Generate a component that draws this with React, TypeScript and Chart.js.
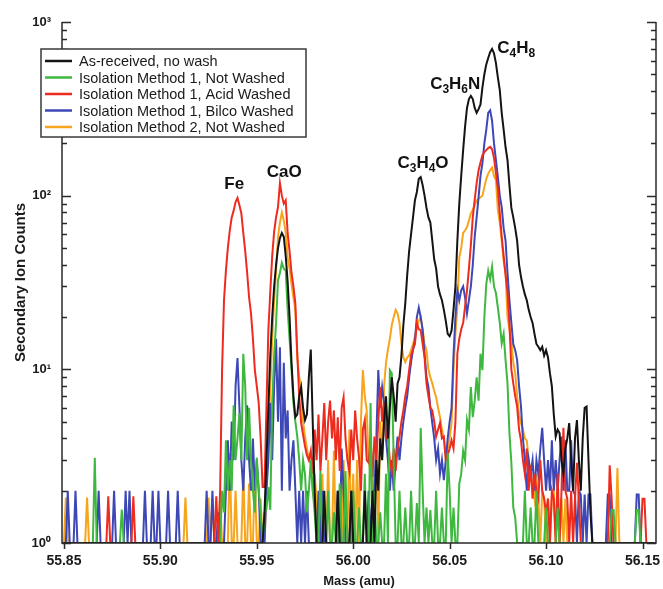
import React, { useEffect, useRef } from 'react';
import { Chart, registerables } from 'chart.js';

Chart.register(...registerables);

// ---------- axis / category data ----------
const MASS_START = 55.85;
const MASS_STEP = 0.001;
const X_MIN = 55.849;
const X_MAX = 56.157;
const X_TICKS = [55.85, 55.9, 55.95, 56.0, 56.05, 56.1, 56.15];
const Y_DECADES = [1, 10, 100, 1000];
const SUP: Record<number, string> = { 0: '\u2070', 1: '\u00B9', 2: '\u00B2', 3: '\u00B3' };

const SERIES_NAMES = [
  'As-received, no wash',
  'Isolation Method 1, Not Washed',
  'Isolation Method 1, Acid Washed',
  'Isolation Method 1, Bilco Washed',
  'Isolation Method 2, Not Washed',
];
const SERIES_COLORS = ['#141414', '#3fb83f', '#ee2b1f', '#3d48b6', '#f7a51c'];

// ---------- series values (counts, one per 0.001 amu from 55.850) ----------
const AS_RECEIVED = [
  1,1,1,1,1,1,1,1,1,1, 1,1,1,1,1,1,1,1,1,1, 1,1,1,1,1,1,1,1,1,1, 1,1,1,1,1,1,1,1,1,1,
  1,1,1,1,1,1,1,1,1,1, 1,1,1,1,1,1,1,1,1,1, 1,1,1,1,1,1,1,1,1,1, 1,1,1,1,1,1,1,1,1,1,
  1,1,1,1,1,1,1,1,1,1, 1,1,1,1,1,1,1,1,1,1,
  1,1,1,1,1.5,3,6,12,20,30,
  40,50,57,61,58,45,32,20,11,7,
  5.3,5.5,7,7.9,6,5.1,5.5,9,13,5,
  2,1,1,1,1,2,1,1,1,1,
  1,1,2,1,1,1,1,1,1,2,
  1,1,1,1,1,1,2,1,1,1,
  2,1,3,2,4,3,5,7,4,6,
  9,7,5,8.3,9,12,18,24,35,48,
  60,75,94,105,125,128,115,100,85,75,
  70,55,43,38,30,27,25,22,19,16,
  15.5,16.7,22,30,55,90,130,183,250,320,
  360,375,360,320,300,315,335,420,500,570,
  620,670,700,660,580,480,405,300,240,190,
  160,115,85,75,65,55,40,34,30,27,
  25,22,20,18.5,16,14,13.5,12.9,13.5,12,
  12.9,11.7,9.5,8,5.5,4.1,4.5,4.3,3,2.5,
  3.5,4,4.9,3,2,4,5.1,3,2,4,
  6,6.1,3,1.5,1,1,1,1,1,1,
  1,1,1,1,1,1,1,1,1,1,
  1,1,1,1,1,1,1,1,1,1,
  1,1,1,1,1,1,1,
];

const M1_NOT_WASHED = [
  1,1,1,1,1,1,1,1,1,1,
  1,1,1,1,1,1,3.1,1,1,1,
  1,1,1,1,1,1,1,1,1,1,
  1.56,1,1,1,1,1,1,1,1,1,
  1,1,1,1,1,1,1,1,1,1, 1,1,1,1,1,1,1,1,1,1, 1,1,1,1,1,1,1,1,1,1, 1,1,1,1,1,1,1,1,1,1,
  1,1,2,1.5,3.9,2,3,2,6.2,3,
  4,5.6,3,12.3,8,3,6,3,2,1.5,
  3.1,2,1.5,1,1.5,1.55,2.1,1.55,6.4,12,
  18.5,32.5,36,41,38,37,22,15,10,6.4,
  5,4.1,3,2,3,2.5,1.5,2,3,2,
  1.5,1,1,2.6,1,1,1,2,1,1,
  1.5,1,1,2.2,1,1,2.6,1,1,1,
  2,1,1,1.6,1,1,2.5,1,1,6.4,
  1,2,1,1,1.5,1,1,2.5,1,9.9,
  9.5,3,1,1,2,1,1,1.6,1,1,
  2,1,1,1.7,1,4.6,2,1,1.6,1,
  1.55,1,1,2,1,1,1.6,1,1,3.3,
  2,1,1.6,1,1,2.2,2.5,3.4,3,5.1,
  4.5,7.9,5.3,6.6,9,6.6,12.3,9.9,20,31,
  37,33,39,30,27.5,22.7,18.5,14.1,16,11.3,
  8.3,4.3,2.9,1.6,1.4,1,1,1,1,2,
  1,1,1.6,1,1,2,1,1,1,1,
  1.6,1,1,1,1,1,1.6,1,1,1,
  1,1,1,1,1,1,1,1,1,1,
  1,1,1,1,1,1,1,1,1,1,
  1,1,1,1,1.55,1.55,1,1,1,1,
  1,1,1,1,1,1,1,1.55,1.55,1,
  1,1,1,1,1,1,1,
];

const M1_ACID_WASHED = [
  1,1,1,1,1,1,1,1,1,1,
  1,1,1,1,1,1,1,1,1,1,
  1,1,1,1.86,1,1,1,1,1,1,
  1,1,1,1,1,1,1.86,1,1,1,
  1,1,1,1,1,1,1,1,1,1, 1,1,1,1,1,1,1,1,1,1, 1,1,1,1,1,1,1,1,1,1,
  1,1,1,1,1,1,1,1,1,1.86,
  1,2,9.9,25,37,50,63,75,82,92,
  97,88,79,61,48,36,26,21,15,9.9,
  8,6.4,4,2.1,2.1,6,16.8,28,45,62,
  75,86,118,100,90,94,61,48,36,30,
  24,12.3,7,4.9,4.2,3.6,3.2,3,3.4,2.5,
  4.5,3,5.5,2.6,4,6.4,3,5,6.6,4,
  5.8,3,5.3,2.6,6,6.9,4,3,2.6,4.5,
  3,5.8,4,3.1,2,4.5,5.1,3,2.9,4,
  2.4,4.1,3,5,7.9,5,6.4,4,4.1,3,
  2.6,3.5,2.6,3.5,4.1,5,5.8,7,8,9.9,
  12,13,14,18.5,17,16.8,14,11.7,8.3,7,
  6,5.8,5,4.1,4.5,4.9,4,4.1,3,3.2,
  3.5,3.9,3.5,5,12.3,15,17,18.5,23,28.5,
  38,52,75,95,118,140,155,171,178,183,
  188,191,185,165,135,110,79,58,45,35,
  28,18.5,10,8.3,7,6.1,4.5,3.9,3,2.5,
  3.5,2,2.8,1.8,2.5,2,1.8,3,2,1.8,
  1.5,1.8,1,2,1.8,1,2.5,1,2,4.6,
  2,1.8,1,2,1,1.8,2.9,1.8,1,1,
  1,1,1,1,1,1,1,1,1,1,
  1,1,1,2.8,1.8,1,1,1,1,1,
  1,1,1,1,1,1,1,1,1,1,
  1.8,1.8,1,1,1,1,1,
];

const M1_BILCO_WASHED = [
  1,1,2,1,1,1,2,1,1,1,
  1,1,1,1,1,1,1,1,2,1,
  1,1,1,1,1,1,2,1,1,1,
  1,1,2,1,2,1,1,1,1,1,
  1,1,2,1,1,1,2,1,1,2,
  1,1,1,1,2,1,1,1,1,2,
  1,1,1,1,1,1,1,1,1,1,
  1,1,1,1,2,1,1,2,1,1,
  1.5,1,1,1,2,3.9,2,5,3,8,
  11.6,6,3,2,4,6.2,3,2,4,2,
  3,2,1,1,1,2,3,6.4,3,8,
  15,5,13.4,2,10.9,4,5.8,2,3,3.9,
  2,1,2,1,2,1,2,1,1,1,
  1,1,2,1,2,1,1,1,1,1,
  1,1,2,1,3.5,2,1,1,1,2,
  1,1,1,1,1,1,1,1,2,1,
  2,2,4,9.9,6,7.9,6.4,4,3,2,
  3,2,3,4.1,3,4,5,6,7,9,
  11,13,14.7,20,22.7,20,16.8,12.3,9,7.9,
  6,4.9,4,3,3.5,2.5,3,2.3,3,4,
  5,6,12,20,28.5,25,28.5,30,26,21,
  25,30,40,58,75,98,130,154,200,240,
  300,310,270,200,160,128,100,86,65,55,
  36,25,18.5,14,12.9,11.3,8,6.1,4,3,
  2,3,2.5,3,2,3,2.5,3.5,4.6,3,
  2,3,2,3.9,2,3,2,3,4.1,2,
  3.9,2,2,3.9,2,1.9,1,2,1.9,1,
  1.9,1,1.9,1.9,1,1,1,1,1,1,
  1,1,1.9,1.9,1,1,1,1,1,1,
  1,1,1,1,1,1,1,1.9,1.9,1,
  1,1,1,1,1,1,1,
];

const M2_NOT_WASHED = [
  1,1.83,1,1,1,1,1,1,1,1,
  1,1,1.83,1,1,1,1,1,1,1,
  1,1,1,1,1,1,1,1,1,1, 1,1,1,1,1,1,1,1,1,1, 1,1,1,1,1,1,1,1,1,1, 1,1,1,1,1,1,1,1,1,1,
  1,1,1,1.83,1,1,1,1,1,1,
  1,1,1,1,1,1.83,1,1.8,1,1,
  1,1.8,1,1,1,1,3.3,1,1,2,
  1,1,1,2.6,1,1,2.2,1,1,2.5,
  1,1,1.8,1,1,2,4,8,15,25,
  37,58,70,80,72,61,44,38,31,26,
  22,11.7,9,7.9,5,4.1,3.5,3,2.9,2,
  2.5,1.8,1,1,2.5,1,1,3,1,1,
  3.4,1,2,1,1,3,1,1,4.5,1,
  2.5,1,3,1,5,9.9,7,5.8,3,2.5,
  3,1,4,1,5,3,8,10.9,13,15,
  18,20,22,21,18.5,14,11.7,11,11.7,12,
  12.9,14,15.5,17.6,19,20,17,14,12.9,10,
  9,8.3,7.5,6.9,6,5.3,4.5,4,3.1,3.5,
  4,4.9,10,16,22.7,44,50,61,63,66,
  72,79,83,88,94,96,98,100,112,125,
  134,140,145,130,123,83,70,55,42,36,
  20,17,14.7,11,9.5,7,5.5,4.9,4.5,4,
  3.9,3,2.5,2.2,1.8,2.5,1.8,1,2,1.8,
  1,1.8,1,1.8,2,1,1.8,1,1.8,1,
  1.8,1,1,1,1,1,1,1,1,1,
  1,1,1,1,1,1,1,1,1,1,
  1,1,1,1,1,1,1,2.7,1,1,
  1,1,1,1,1,1,1,1,1,1,
  1,1,1,1,1,1,1,
];

const SERIES_VALUES = [AS_RECEIVED, M1_NOT_WASHED, M1_ACID_WASHED, M1_BILCO_WASHED, M2_NOT_WASHED];

// peak annotations (data coordinates)
const PEAK_TEXT = ['Fe', 'CaO', 'C3H4O', 'C3H6N', 'C4H8'];
const PEAK_MASS = [55.9383, 55.9642, 56.0362, 56.0529, 56.0845];
const PEAK_COUNTS = [118, 139, 156, 446, 720];

const FONT = '"Liberation Sans", Arial, Helvetica, sans-serif';
const AXIS_COLOR = '#2a2a2a';

function drawFormula(ctx: CanvasRenderingContext2D, text: string, cx: number, cy: number) {
  const mainFont = `bold 17px ${FONT}`;
  const subFont = `bold 12px ${FONT}`;
  const chars = text.split('');
  const widths = chars.map((c) => {
    ctx.font = /\d/.test(c) ? subFont : mainFont;
    return ctx.measureText(c).width;
  });
  const total = widths.reduce((a, b) => a + b, 0);
  let x = cx - total / 2;
  ctx.textBaseline = 'alphabetic';
  ctx.textAlign = 'left';
  chars.forEach((c, k) => {
    const sub = /\d/.test(c);
    ctx.font = sub ? subFont : mainFont;
    ctx.fillText(c, x, cy + (sub ? 10 : 6));
    x += widths[k];
  });
}

const decorPlugin = {
  id: 'decor',
  afterDatasetsDraw(chart: any) {
    const { ctx, chartArea, scales } = chart;
    const { left, right, top, bottom } = chartArea;
    const x = scales.x;
    const y = scales.y;
    ctx.save();
    ctx.strokeStyle = AXIS_COLOR;
    ctx.lineWidth = 1.5;
    ctx.beginPath();
    ctx.moveTo(left, top);
    ctx.lineTo(left, bottom);
    ctx.lineTo(right, bottom);
    ctx.lineTo(right, top);
    ctx.stroke();
    // y ticks (inward, both sides)
    ctx.beginPath();
    for (let d = 0; d < 3; d++) {
      for (let m = 1; m <= 9; m++) {
        const v = m * Math.pow(10, d);
        const py = Math.round(y.getPixelForValue(v)) + 0.5;
        const len = m === 1 ? 9 : 5;
        ctx.moveTo(left, py);
        ctx.lineTo(left + len, py);
        ctx.moveTo(right, py);
        ctx.lineTo(right - len, py);
      }
    }
    const pTop = Math.round(y.getPixelForValue(1000)) + 0.5;
    ctx.moveTo(left, pTop);
    ctx.lineTo(left + 9, pTop);
    ctx.moveTo(right, pTop);
    ctx.lineTo(right - 9, pTop);
    // x ticks (outward)
    X_TICKS.forEach((v) => {
      const px = Math.round(x.getPixelForValue(v)) + 0.5;
      ctx.moveTo(px, bottom);
      ctx.lineTo(px, bottom + 6);
    });
    ctx.stroke();

    // peak labels
    ctx.fillStyle = '#111';
    PEAK_TEXT.forEach((t, k) => {
      drawFormula(ctx, t, x.getPixelForValue(PEAK_MASS[k]), y.getPixelForValue(PEAK_COUNTS[k]));
    });

    // legend box
    const bx = left - 21;
    const by = top + 27;
    const bw = 265;
    const bh = 88;
    ctx.fillStyle = '#ffffff';
    ctx.fillRect(bx, by, bw, bh);
    ctx.strokeStyle = '#3a3a3a';
    ctx.lineWidth = 1.5;
    ctx.strokeRect(bx, by, bw, bh);
    ctx.font = `14.5px ${FONT}`;
    ctx.textBaseline = 'middle';
    ctx.textAlign = 'left';
    SERIES_NAMES.forEach((name, k) => {
      const ry = by + 12 + k * 16.5;
      ctx.strokeStyle = SERIES_COLORS[k];
      ctx.lineWidth = 2.5;
      ctx.beginPath();
      ctx.moveTo(bx + 4, ry);
      ctx.lineTo(bx + 31, ry);
      ctx.stroke();
      ctx.fillStyle = '#1a1a1a';
      ctx.fillText(name, bx + 38, ry + 1);
    });
    ctx.restore();
  },
};

export default function App() {
  const ref = useRef<HTMLCanvasElement>(null);
  useEffect(() => {
    const canvas = ref.current;
    if (!canvas) return;
    const masses = SERIES_VALUES[0].map((_, i) => +(MASS_START + i * MASS_STEP).toFixed(3));
    const datasets = SERIES_VALUES.map((vals, k) => ({
      label: SERIES_NAMES[k],
      data: vals.map((v, i) => ({ x: masses[i], y: v })),
      borderColor: SERIES_COLORS[k],
      backgroundColor: SERIES_COLORS[k],
      borderWidth: 2,
      pointRadius: 0,
      tension: 0,
      fill: false,
    }));
    const chart = new Chart(canvas, {
      type: 'line',
      data: { datasets },
      options: {
        animation: false,
        responsive: false,
        maintainAspectRatio: false,
        layout: { padding: { top: 22, right: 7, left: 0, bottom: 0 } },
        plugins: { legend: { display: false }, tooltip: { enabled: false } },
        scales: {
          x: {
            type: 'linear',
            bounds: 'data',
            min: X_MIN,
            max: X_MAX,
            afterBuildTicks: (s: any) => {
              s.ticks = X_TICKS.map((v) => ({ value: v }));
            },
            afterFit: (s: any) => {
              s.height = 46;
              s.paddingLeft = 0;
              s.paddingRight = 0;
            },
            grid: { display: false, drawTicks: false },
            border: { display: false },
            ticks: {
              callback: (v: any) => Number(v).toFixed(2),
              font: { family: FONT, size: 14, weight: 'bold' },
              color: '#1a1a1a',
              padding: 10,
              maxRotation: 0,
              autoSkip: false,
            },
            title: {
              display: true,
              text: 'Mass (amu)',
              font: { family: FONT, size: 13, weight: 'bold' },
              color: '#1a1a1a',
              padding: { top: 0, bottom: 0 },
            },
          },
          y: {
            type: 'logarithmic',
            min: 1,
            max: 1000,
            afterBuildTicks: (s: any) => {
              s.ticks = Y_DECADES.map((v) => ({ value: v, major: true }));
            },
            afterFit: (s: any) => {
              s.width = 62;
              s.paddingTop = 0;
              s.paddingBottom = 0;
            },
            grid: { display: false, drawTicks: false },
            border: { display: false },
            ticks: {
              callback: (v: any) => '10' + SUP[Math.round(Math.log10(Number(v)))],
              font: { family: FONT, size: 13, weight: 'bold' },
              color: '#1a1a1a',
              padding: 11,
              autoSkip: false,
            },
            title: {
              display: true,
              text: 'Secondary Ion Counts',
              font: { family: FONT, size: 15, weight: 'bold' },
              color: '#1a1a1a',
              padding: { top: 12, bottom: 0 },
            },
          },
        },
      },
      plugins: [decorPlugin],
    } as any);
    return () => chart.destroy();
  }, []);
  return (
    <div style={{ position: 'absolute', left: 0, top: 0, width: 663, height: 589, background: '#fff' }}>
      <canvas ref={ref} width={663} height={589} style={{ display: 'block' }} />
    </div>
  );
}
